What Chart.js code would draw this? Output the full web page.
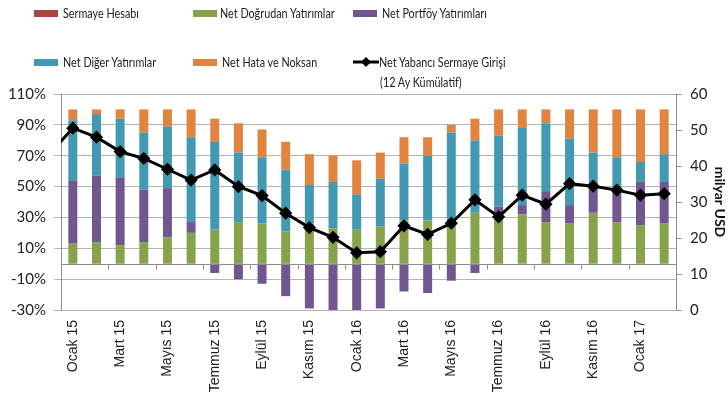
<!DOCTYPE html>
<html>
<head>
<meta charset="utf-8">
<script src="https://cdn.jsdelivr.net/npm/chart.js@4/dist/chart.umd.min.js"></script>
<style>
  body { margin: 0; background: #fff; }
  #wrap { position: relative; width: 728px; height: 408px; }
  .lg { position: absolute; font: 13.5px Lato, sans-serif; color: #222; white-space: nowrap; line-height: 16px;
        transform: scaleX(0.8); transform-origin: 0 0; }
  .sw { position: absolute; width: 24px; height: 7px; }
</style>
</head>
<body>
<div id="wrap">
  <canvas id="chart" width="728" height="408"></canvas>
  <div id="legend"></div>
</div>
<script>
// first category (Aralık 14) sits left of the visible range, only the line reaches into it
const months = ['Aralık 14', 'Ocak 15', 'Şubat 15', 'Mart 15', 'Nisan 15', 'Mayıs 15', 'Haziran 15',
  'Temmuz 15', 'Ağustos 15', 'Eylül 15', 'Ekim 15', 'Kasım 15', 'Aralık 15', 'Ocak 16', 'Şubat 16',
  'Mart 16', 'Nisan 16', 'Mayıs 16', 'Haziran 16', 'Temmuz 16', 'Ağustos 16', 'Eylül 16', 'Ekim 16',
  'Kasım 16', 'Aralık 16', 'Ocak 17', 'Şubat 17'];

const sermayeHesabi = [null, 0, 0, 0, 0, 0, 0, 0, 0, 0, 0, 0, 0, 0, 0, 0, 0, 0, 0, 0, 0, 0, 0, 0, 0, 0, 0];
const dogrudan = [null, 13, 14, 12, 14, 17, 20, 22, 27, 26, 21, 26, 23, 22, 24, 28, 28, 26, 33, 30, 32, 27, 26, 33, 27, 25, 26];
const portfoy = [null, 41, 43, 44, 34, 32, 7, -6, -10, -13, -21, -29, -30, -31, -29, -18, -19, -11, -6, 7, 6, 20, 12, 17, 23, 28, 27];
const diger = [null, 39, 40, 38, 37, 40, 55, 57, 45, 43, 40, 25, 30, 23, 31, 37, 42, 59, 47, 46, 50, 44, 43, 22, 19, 13, 18];
const hataNoksan = [null, 7, 3, 6, 15, 11, 18, 15, 19, 18, 18, 20, 17, 22, 17, 17, 12, 5, 14, 17, 12, 9, 19, 28, 31, 34, 29];
const yabanciSermaye = [43.2, 50.5, 48.0, 44.0, 42.1, 39.1, 36.1, 38.9, 34.3, 31.8, 26.9, 22.9, 20.2, 15.9, 16.2,
  23.4, 21.0, 24.1, 30.6, 25.9, 31.9, 29.4, 35.1, 34.4, 33.3, 31.9, 32.3];

const leftTicks = [-30, -10, 10, 30, 50, 70, 90, 110];
const rightTicks = [0, 10, 20, 30, 40, 50, 60];

const colors = {
  sermaye: '#A94442',
  dogrudan: '#86A24A',
  portfoy: '#71578F',
  diger: '#4399B1',
  hata: '#E0843F'
};

const bar = (label, data, color) => ({
  type: 'bar', label, data, backgroundColor: color, yAxisID: 'y', order: 1,
  barPercentage: 0.38, categoryPercentage: 1
});

const gridGray = '#B4B4B4';
const axisGray = '#8C8C8C';

// zero line of the category axis with a tick every two months
const zeroLine = {
  id: 'zeroLine',
  afterDatasetsDraw(chart) {
    const { ctx, chartArea, scales } = chart;
    const y0 = Math.round(scales.y.getPixelForValue(0)) + 0.5;
    ctx.save();
    ctx.strokeStyle = axisGray;
    ctx.lineWidth = 1;
    ctx.beginPath();
    ctx.moveTo(chartArea.left, y0);
    ctx.lineTo(chartArea.right, y0);
    for (let i = 2; i < months.length - 1; i += 2) {
      const x = Math.round((scales.x.getPixelForValue(i) + scales.x.getPixelForValue(i + 1)) / 2) + 0.5;
      ctx.moveTo(x, y0);
      ctx.lineTo(x, y0 + 5);
    }
    ctx.stroke();
    ctx.restore();
  }
};

new Chart(document.getElementById('chart'), {
  data: {
    labels: months,
    datasets: [
      bar('Sermaye Hesabı', sermayeHesabi, colors.sermaye),
      bar('Net Doğrudan Yatırımlar', dogrudan, colors.dogrudan),
      bar('Net Portföy Yatırımları', portfoy, colors.portfoy),
      bar('Net Diğer Yatırımlar', diger, colors.diger),
      bar('Net Hata ve Noksan', hataNoksan, colors.hata),
      {
        type: 'line', label: 'Net Yabancı Sermaye Girişi (12 Ay Kümülatif)', data: yabanciSermaye,
        yAxisID: 'y1', order: 0, borderColor: '#000', backgroundColor: '#000', borderWidth: 3,
        pointStyle: 'rectRot', pointRadius: 4.5, tension: 0
      }
    ]
  },
  options: {
    responsive: false,
    animation: false,
    layout: { padding: { top: 94, left: 0, right: 0, bottom: 0 } },
    plugins: { legend: { display: false }, tooltip: { enabled: false } },
    scales: {
      x: {
        type: 'category',
        min: 'Ocak 15',
        stacked: true,
        offset: true,
        grid: { display: false },
        border: { display: false },
        ticks: {
          autoSkip: false, minRotation: 90, maxRotation: 90, padding: 2,
          color: '#222', font: { family: 'Liberation Sans', size: 14 },
          callback(value) { return value % 2 === 1 ? this.getLabelForValue(value) : ''; }
        },
        afterFit: s => { s.height = 98; }
      },
      y: {
        position: 'left',
        stacked: true,
        min: -30, max: 110,
        afterBuildTicks: s => { s.ticks = leftTicks.map(v => ({ value: v })); },
        grid: { color: gridGray, tickLength: 7 },
        border: { color: axisGray },
        ticks: {
          padding: 8, color: '#222', font: { family: 'Lato', size: 15 },
          callback: v => v + '%'
        },
        afterFit: s => { s.width = 61; }
      },
      y1: {
        position: 'right',
        min: 0, max: 60,
        afterBuildTicks: s => { s.ticks = rightTicks.map(v => ({ value: v })); },
        grid: { drawOnChartArea: false, color: axisGray, tickLength: 6 },
        border: { color: axisGray },
        ticks: { padding: 8, color: '#222', font: { family: 'Lato', size: 15 } },
        title: {
          display: true, text: 'milyar USD', color: '#111',
          font: { family: 'Lato', size: 14, weight: 'bold' }, padding: 0
        },
        afterFit: s => { s.width = 52; }
      }
    }
  },
  plugins: [zeroLine]
});

// legend laid out like the original, three columns in two rows
const legendItems = [
  { text: 'Sermaye Hesabı', color: colors.sermaye, x: 34, tx: 63, y: 13 },
  { text: 'Net Doğrudan Yatırımlar', color: colors.dogrudan, x: 193, tx: 220, y: 13 },
  { text: 'Net Portföy Yatırımları', color: colors.portfoy, x: 353, tx: 382, y: 13 },
  { text: 'Net Diğer Yatırımlar', color: colors.diger, x: 34, tx: 63, y: 62 },
  { text: 'Net Hata ve Noksan', color: colors.hata, x: 193, tx: 222, y: 62 }
];
const legend = document.getElementById('legend');
let html = '';
legendItems.forEach(it => {
  html += `<div class="sw" style="left:${it.x}px;top:${it.y - 3}px;background:${it.color}"></div>`;
  html += `<div class="lg" style="left:${it.tx}px;top:${it.y - 8}px">${it.text}</div>`;
});
html += `<svg style="position:absolute;left:352px;top:56px" width="28" height="12">
  <line x1="1" y1="6" x2="27" y2="6" stroke="#000" stroke-width="3"/>
  <polygon points="14,1 19,6 14,11 9,6" fill="#000"/></svg>`;
html += `<div class="lg" style="left:379px;top:54px">Net Yabancı Sermaye Girişi</div>`;
html += `<div class="lg" style="left:380px;top:74px">(12 Ay Kümülatif)</div>`;
legend.innerHTML = html;
</script>
</body>
</html>
